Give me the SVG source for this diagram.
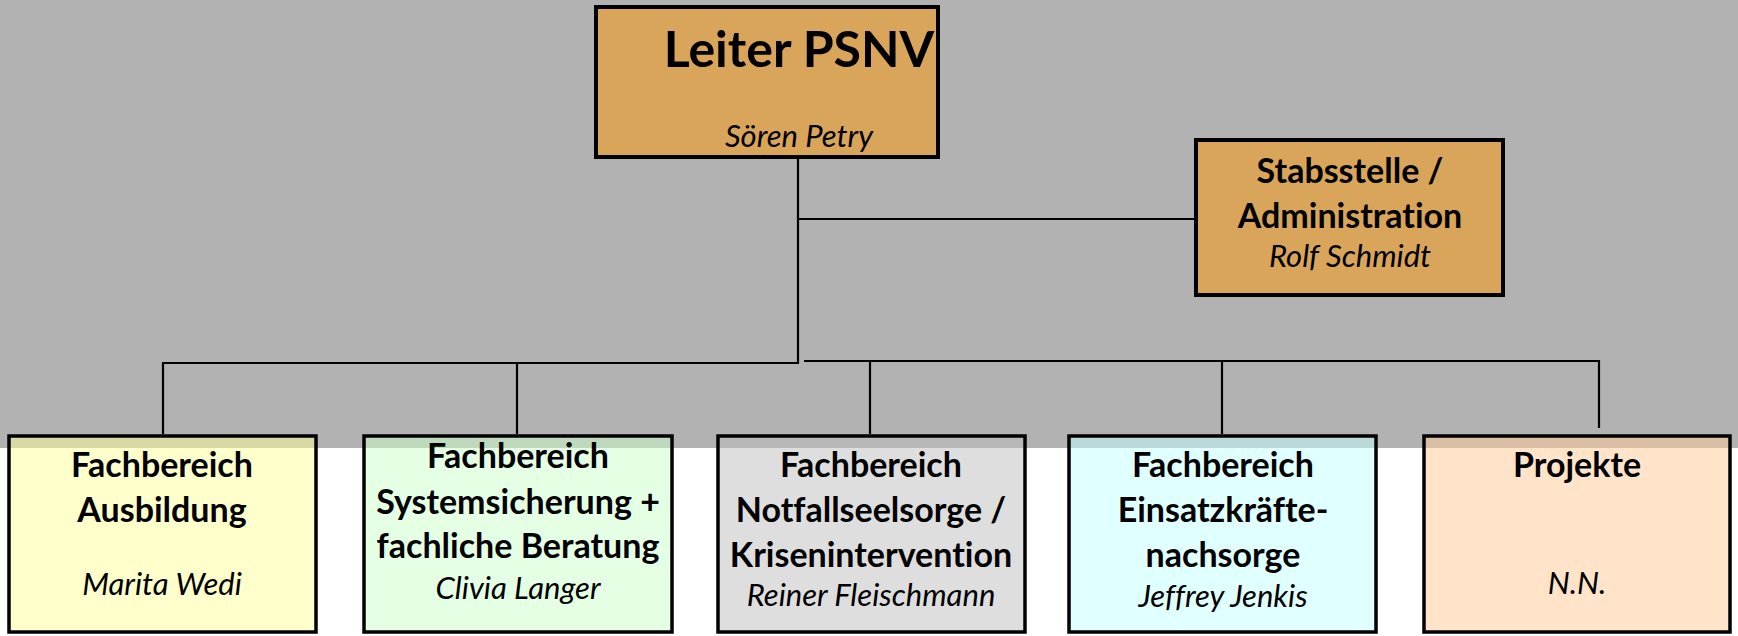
<svg xmlns="http://www.w3.org/2000/svg" width="1738" height="636" viewBox="0 0 1738 636">
<style>
.box{stroke:#000;stroke-width:3.5}
.top{fill:#D9A55A;stroke:#000;stroke-width:4}
.sub{fill-opacity:0.5}
.t{font-family:Lato,"Liberation Sans",sans-serif;text-anchor:middle;fill:#000;font-variant-ligatures:none;font-feature-settings:"liga" 0,"dlig" 0}
.b{font-weight:bold;font-size:34px}
.i{font-style:italic;font-size:31px}
.conn{fill:none;stroke:#000;stroke-width:2.2}
</style>
<rect x="0" y="0" width="1738" height="448" fill="#B2B2B2"/>
<rect x="0" y="448" width="1738" height="188" fill="#FFFFFF"/>
<g id="connectors" class="conn">
<path d="M798 159 V363 H163 V434"/>
<path d="M798 219 H1194"/>
<path d="M804 361 H1599 V428"/>
<path d="M517 363 V434"/>
<path d="M870 361 V434"/>
<path d="M1222 361 V434"/>
</g>
<g id="leiter">
<rect class="top" x="596" y="7" width="342" height="150"/>
<text class="t" x="799" y="67" font-weight="bold" font-size="50">Leiter PSNV</text>
<text class="t i" x="799" y="147">Sören Petry</text>
</g>
<g id="stabsstelle">
<rect class="top" x="1196" y="140" width="307" height="155"/>
<text class="t b" x="1350" y="183">Stabsstelle /</text>
<text class="t b" x="1350" y="228" font-size="35">Administration</text>
<text class="t i" x="1350" y="267">Rolf Schmidt</text>
</g>
<g id="ausbildung">
<rect class="box sub" x="9" y="436" width="307" height="196" fill="#FFFF99"/>
<text class="t b" x="162" y="477">Fachbereich</text>
<text class="t b" x="162" y="522">Ausbildung</text>
<text class="t i" x="162" y="595">Marita Wedi</text>
</g>
<g id="systemsicherung">
<rect class="box sub" x="364" y="436" width="308" height="196" fill="#CBFFCB"/>
<text class="t b" x="518" y="468">Fachbereich</text>
<text class="t b" x="518" y="514">Systemsicherung +</text>
<text class="t b" x="518" y="558">fachliche Beratung</text>
<text class="t i" x="518" y="599">Clivia Langer</text>
</g>
<g id="notfallseelsorge">
<rect class="box sub" x="718" y="436" width="307" height="196" fill="#BDBDBD"/>
<text class="t b" x="871" y="477">Fachbereich</text>
<text class="t b" x="871" y="522">Notfallseelsorge /</text>
<text class="t b" x="871" y="567">Krisenintervention</text>
<text class="t i" x="871" y="606">Reiner Fleischmann</text>
</g>
<g id="einsatzkraefte">
<rect class="box sub" x="1069" y="436" width="307" height="196" fill="#C1FFFF"/>
<text class="t b" x="1223" y="477">Fachbereich</text>
<text class="t b" x="1223" y="522">Einsatzkräfte-</text>
<text class="t b" x="1223" y="567">nachsorge</text>
<text class="t i" x="1223" y="607">Jeffrey Jenkis</text>
</g>
<g id="projekte">
<rect class="box sub" x="1424" y="436" width="306" height="196" fill="#FFC995"/>
<text class="t b" x="1577" y="477">Projekte</text>
<text class="t i" x="1577" y="594">N.N.</text>
</g>
</svg>
